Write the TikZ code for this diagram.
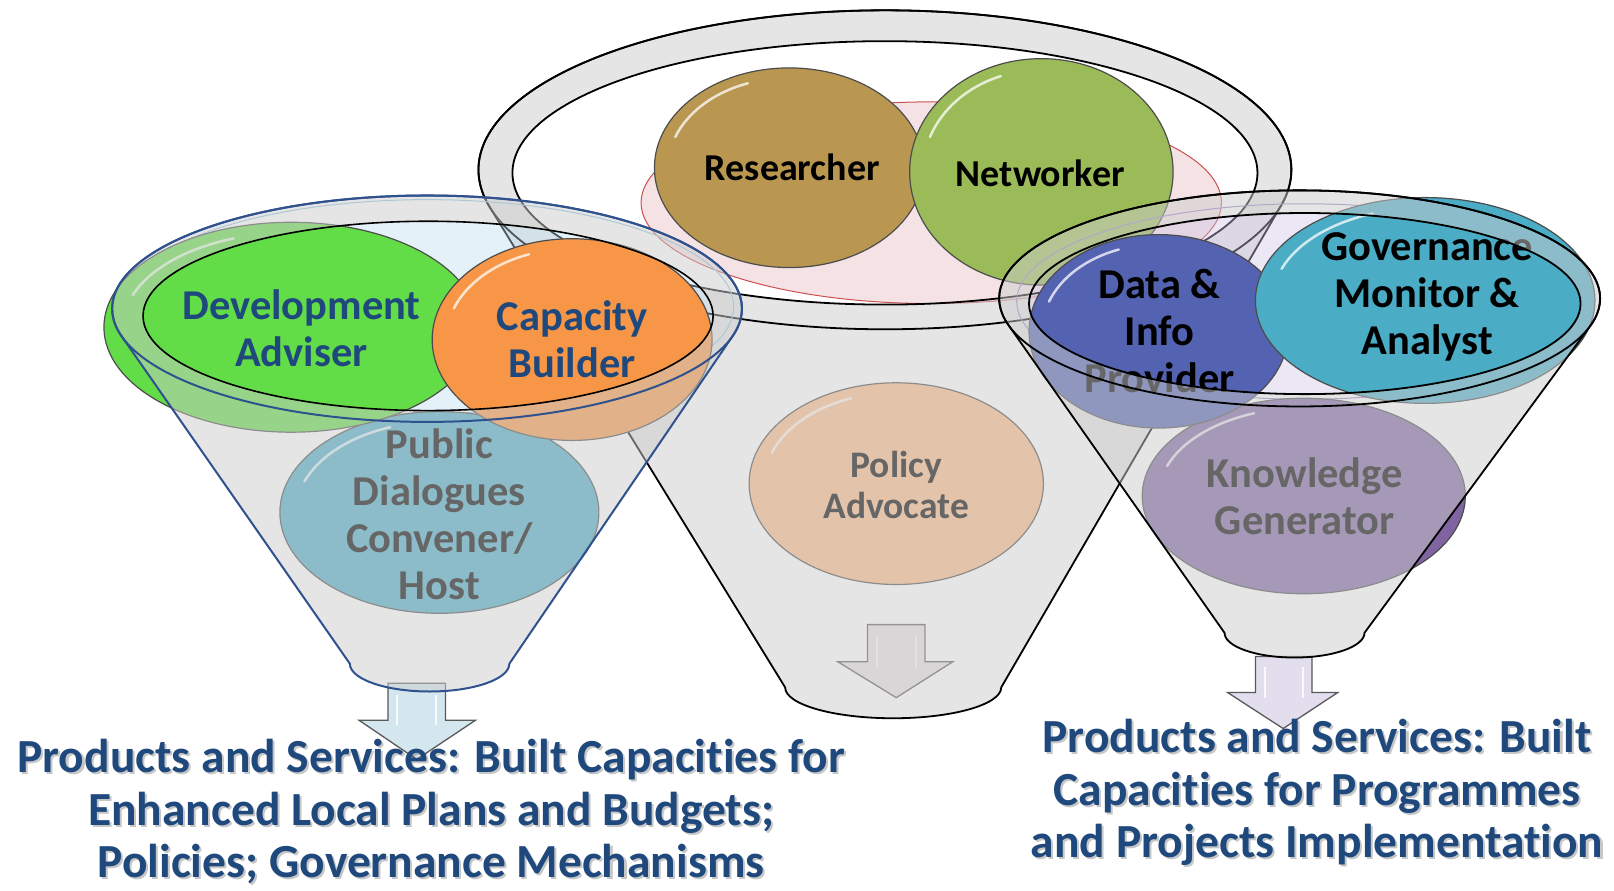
\documentclass[tikz,border=0pt]{standalone}
\usepackage{fontspec}
\setmainfont{Carlito}[Ligatures=CommonOff]
\definecolor{capblue}{RGB}{31,73,125}
\definecolor{devgreen}{RGB}{98,221,72}
\definecolor{caporange}{RGB}{247,150,70}
\definecolor{aquab}{RGB}{75,172,198}
\definecolor{researchc}{RGB}{185,151,80}
\definecolor{netgreen}{RGB}{155,187,89}
\definecolor{datablue}{RGB}{84,98,178}
\definecolor{policyc}{RGB}{250,186,136}
\definecolor{knowpurple}{RGB}{128,100,162}
\definecolor{ovlgray}{RGB}{205,205,205}
\definecolor{funblue}{RGB}{47,82,143}
\definecolor{pinkfill}{RGB}{244,226,229}
\definecolor{pinkline}{RGB}{205,80,80}
\definecolor{openblue}{RGB}{190,220,240}
\definecolor{openlav}{RGB}{205,195,228}
\definecolor{thinblue}{RGB}{140,195,220}
\definecolor{thinpurple}{RGB}{150,130,200}
\definecolor{arrL}{RGB}{212,230,238}
\definecolor{arrC}{RGB}{232,222,225}
\definecolor{arrR}{RGB}{226,222,238}
\tikzset{
  bub/.style={draw=black!70, line width=1.2pt},
  gloss/.style={draw=white, line width=2.5pt, opacity=0.75, line cap=round},
  lbl/.style={font=\bfseries\fontsize{42.5}{47}\selectfont, align=center, inner sep=0pt},
  lblsmall/.style={lbl, font=\bfseries\fontsize{38}{47}\selectfont},
  captext/.style={font=\bfseries\fontsize{47.5}{52.5}\selectfont, align=center, inner sep=0pt, text=capblue},
  capshadow/.style={captext, text=black, text opacity=0.22},
  ovl/.style={fill=ovlgray, fill opacity=0.5, even odd rule},
  rim/.style={draw=black, line width=1.8pt, line join=round},
  rimblue/.style={draw=funblue, line width=2pt, line join=round},
  barrow/.style={draw=black!65, line width=1.3pt, line join=miter},
}
\newcommand\bubble[5]{%
  \fill[#5] (#1,#2) ellipse[x radius=#3, y radius=#4];
  \draw[gloss] (#1,#2) ++({0.9*#3*cos(200)},{0.9*#4*sin(200)}) arc[start angle=200, end angle=250, x radius=0.9*#3, y radius=0.9*#4];
  \draw[bub] (#1,#2) ellipse[x radius=#3, y radius=#4];
}
\begin{document}
\begin{tikzpicture}[x=1.029pt, y=-1.029pt]
\useasboundingbox (0,0) rectangle (1568.5,865);
\fill[white] (0,0) rectangle (1568.5,865);

% ================= central funnel =================
\draw[barrow, fill=arrC] (843,607) -- (899,607) -- (899,643) -- (926,643) -- (871,678) -- (814,643) -- (843,643) -- cycle;
\draw[white, line width=2pt, opacity=0.8] (852,618) -- (852,648) (890,618) -- (890,648);
\fill[pinkfill] (905,197) ellipse[x radius=282, y radius=98];
\draw[pinkline, line width=1pt] (905,197) ellipse[x radius=282, y radius=98];
\bubble{871}{470}{143}{98}{policyc}
\bubble{767}{163}{131}{97}{researchc}
\bubble{1012}{167}{128}{110}{netgreen}
\node[lbl, font=\bfseries\fontsize{37.5}{41}\selectfont] (tpol) at (871,471) {Policy\\Advocate};
\node[lblsmall] (tres) at (770,163) {Researcher};
\node[lblsmall] (tnet) at (1011,168) {Networker};
\path[ovl] (476.0,201.4) arc[start angle=166.44, end angle=372.84, x radius=395, y radius=155]
  -- (973,668) arc[start angle=0, end angle=180, x radius=105, y radius=30] -- cycle
  (860,168) ellipse[x radius=362, y radius=128];
\draw[rim] (476.0,201.4) arc[start angle=166.44, end angle=372.84, x radius=395, y radius=155]
  -- (973,668) arc[start angle=0, end angle=180, x radius=105, y radius=30] -- cycle;
\draw[rim] (860,165) ellipse[x radius=395, y radius=155];
\draw[rim] (860,168) ellipse[x radius=362, y radius=128];

% ================= left funnel =================
\fill[openblue, opacity=0.4] (416,307) ellipse[x radius=277, y radius=92];
\draw[thinblue, line width=1pt] (415,298) ellipse[x radius=298, y radius=104];
\draw[barrow, fill=arrL] (377,664) -- (433,664) -- (433,700) -- (462,700) -- (405,738) -- (349,700) -- (377,700) -- cycle;
\draw[white, line width=2pt, opacity=0.8] (386,675) -- (386,705) (424,675) -- (424,705);
\bubble{427}{498}{155}{98}{aquab}
\bubble{283}{318}{182}{102}{devgreen}
\bubble{556}{330}{136}{98}{caporange}
\node[lbl] (tpub) at (427,500) {Public\\Dialogues\\Convener/\\Host};
\node[lbl, text=capblue] (tdev) at (293,319) {Development\\Adviser};
\node[lbl, text=capblue] (tcapb) at (556,330) {Capacity\\Builder};
\path[ovl] (118.2,326.7) arc[start angle=165.94, end angle=373.77, x radius=306, y radius=110]
  -- (495,645) arc[start angle=0, end angle=180, x radius=77.5, y radius=27] -- cycle
  (416,307) ellipse[x radius=277, y radius=92];
\draw[rimblue] (118.2,326.7) arc[start angle=165.94, end angle=373.77, x radius=306, y radius=110]
  -- (495,645) arc[start angle=0, end angle=180, x radius=77.5, y radius=27] -- cycle;
\draw[rimblue] (415,300) ellipse[x radius=306, y radius=110];
\draw[draw=black, line width=1.6pt] (416,307) ellipse[x radius=277, y radius=92];

% ================= right funnel =================
\fill[openlav, opacity=0.4] (1268,295) ellipse[x radius=268, y radius=88];
\draw[thinpurple, line width=1pt] (1268,293) ellipse[x radius=280, y radius=95];
\draw[barrow, fill=arrR] (1220,638) -- (1275,638) -- (1275,673) -- (1300,673) -- (1247,708) -- (1193,673) -- (1220,673) -- cycle;
\draw[white, line width=2pt, opacity=0.8] (1229,648) -- (1229,678) (1266,648) -- (1266,678);
\bubble{1267}{482}{157}{95}{knowpurple}
\bubble{1126}{322}{126}{94}{datablue}
\bubble{1385}{292}{165}{100}{aquab}
\node[lbl] (tkno) at (1268,482) {Knowledge\\Generator};
\node[lbl] (tdata) at (1127,322) {Data \&\\Info\\Provider};
\node[lbl] (tgov) at (1387,289) {Governance\\Monitor \&\\Analyst};
\path[ovl] (979.9,315.7) arc[start angle=165.84, end angle=374.81, x radius=292, y radius=105]
  -- (1326,615) arc[start angle=0, end angle=180, x radius=68, y radius=24] -- cycle
  (1268,295) ellipse[x radius=268, y radius=88];
\draw[rim] (979.9,315.7) arc[start angle=165.84, end angle=374.81, x radius=292, y radius=105]
  -- (1326,615) arc[start angle=0, end angle=180, x radius=68, y radius=24] -- cycle;
\draw[rim] (1263,290) ellipse[x radius=292, y radius=105];
\draw[rim] (1268,295) ellipse[x radius=268, y radius=88];

% ================= captions =================
\node[capshadow] (capLs) at (421,791) {Products and Services: Built Capacities for\\Enhanced Local Plans and Budgets;\\Policies; Governance Mechanisms};
\node[captext] (capL) at (419,789) {Products and Services: Built Capacities for\\Enhanced Local Plans and Budgets;\\Policies; Governance Mechanisms};
\node[capshadow] (capRs) at (1282,772) {Products and Services: Built\\Capacities for Programmes\\and Projects Implementation};
\node[captext] (capR) at (1280,770) {Products and Services: Built\\Capacities for Programmes\\and Projects Implementation};
\end{tikzpicture}
\end{document}
